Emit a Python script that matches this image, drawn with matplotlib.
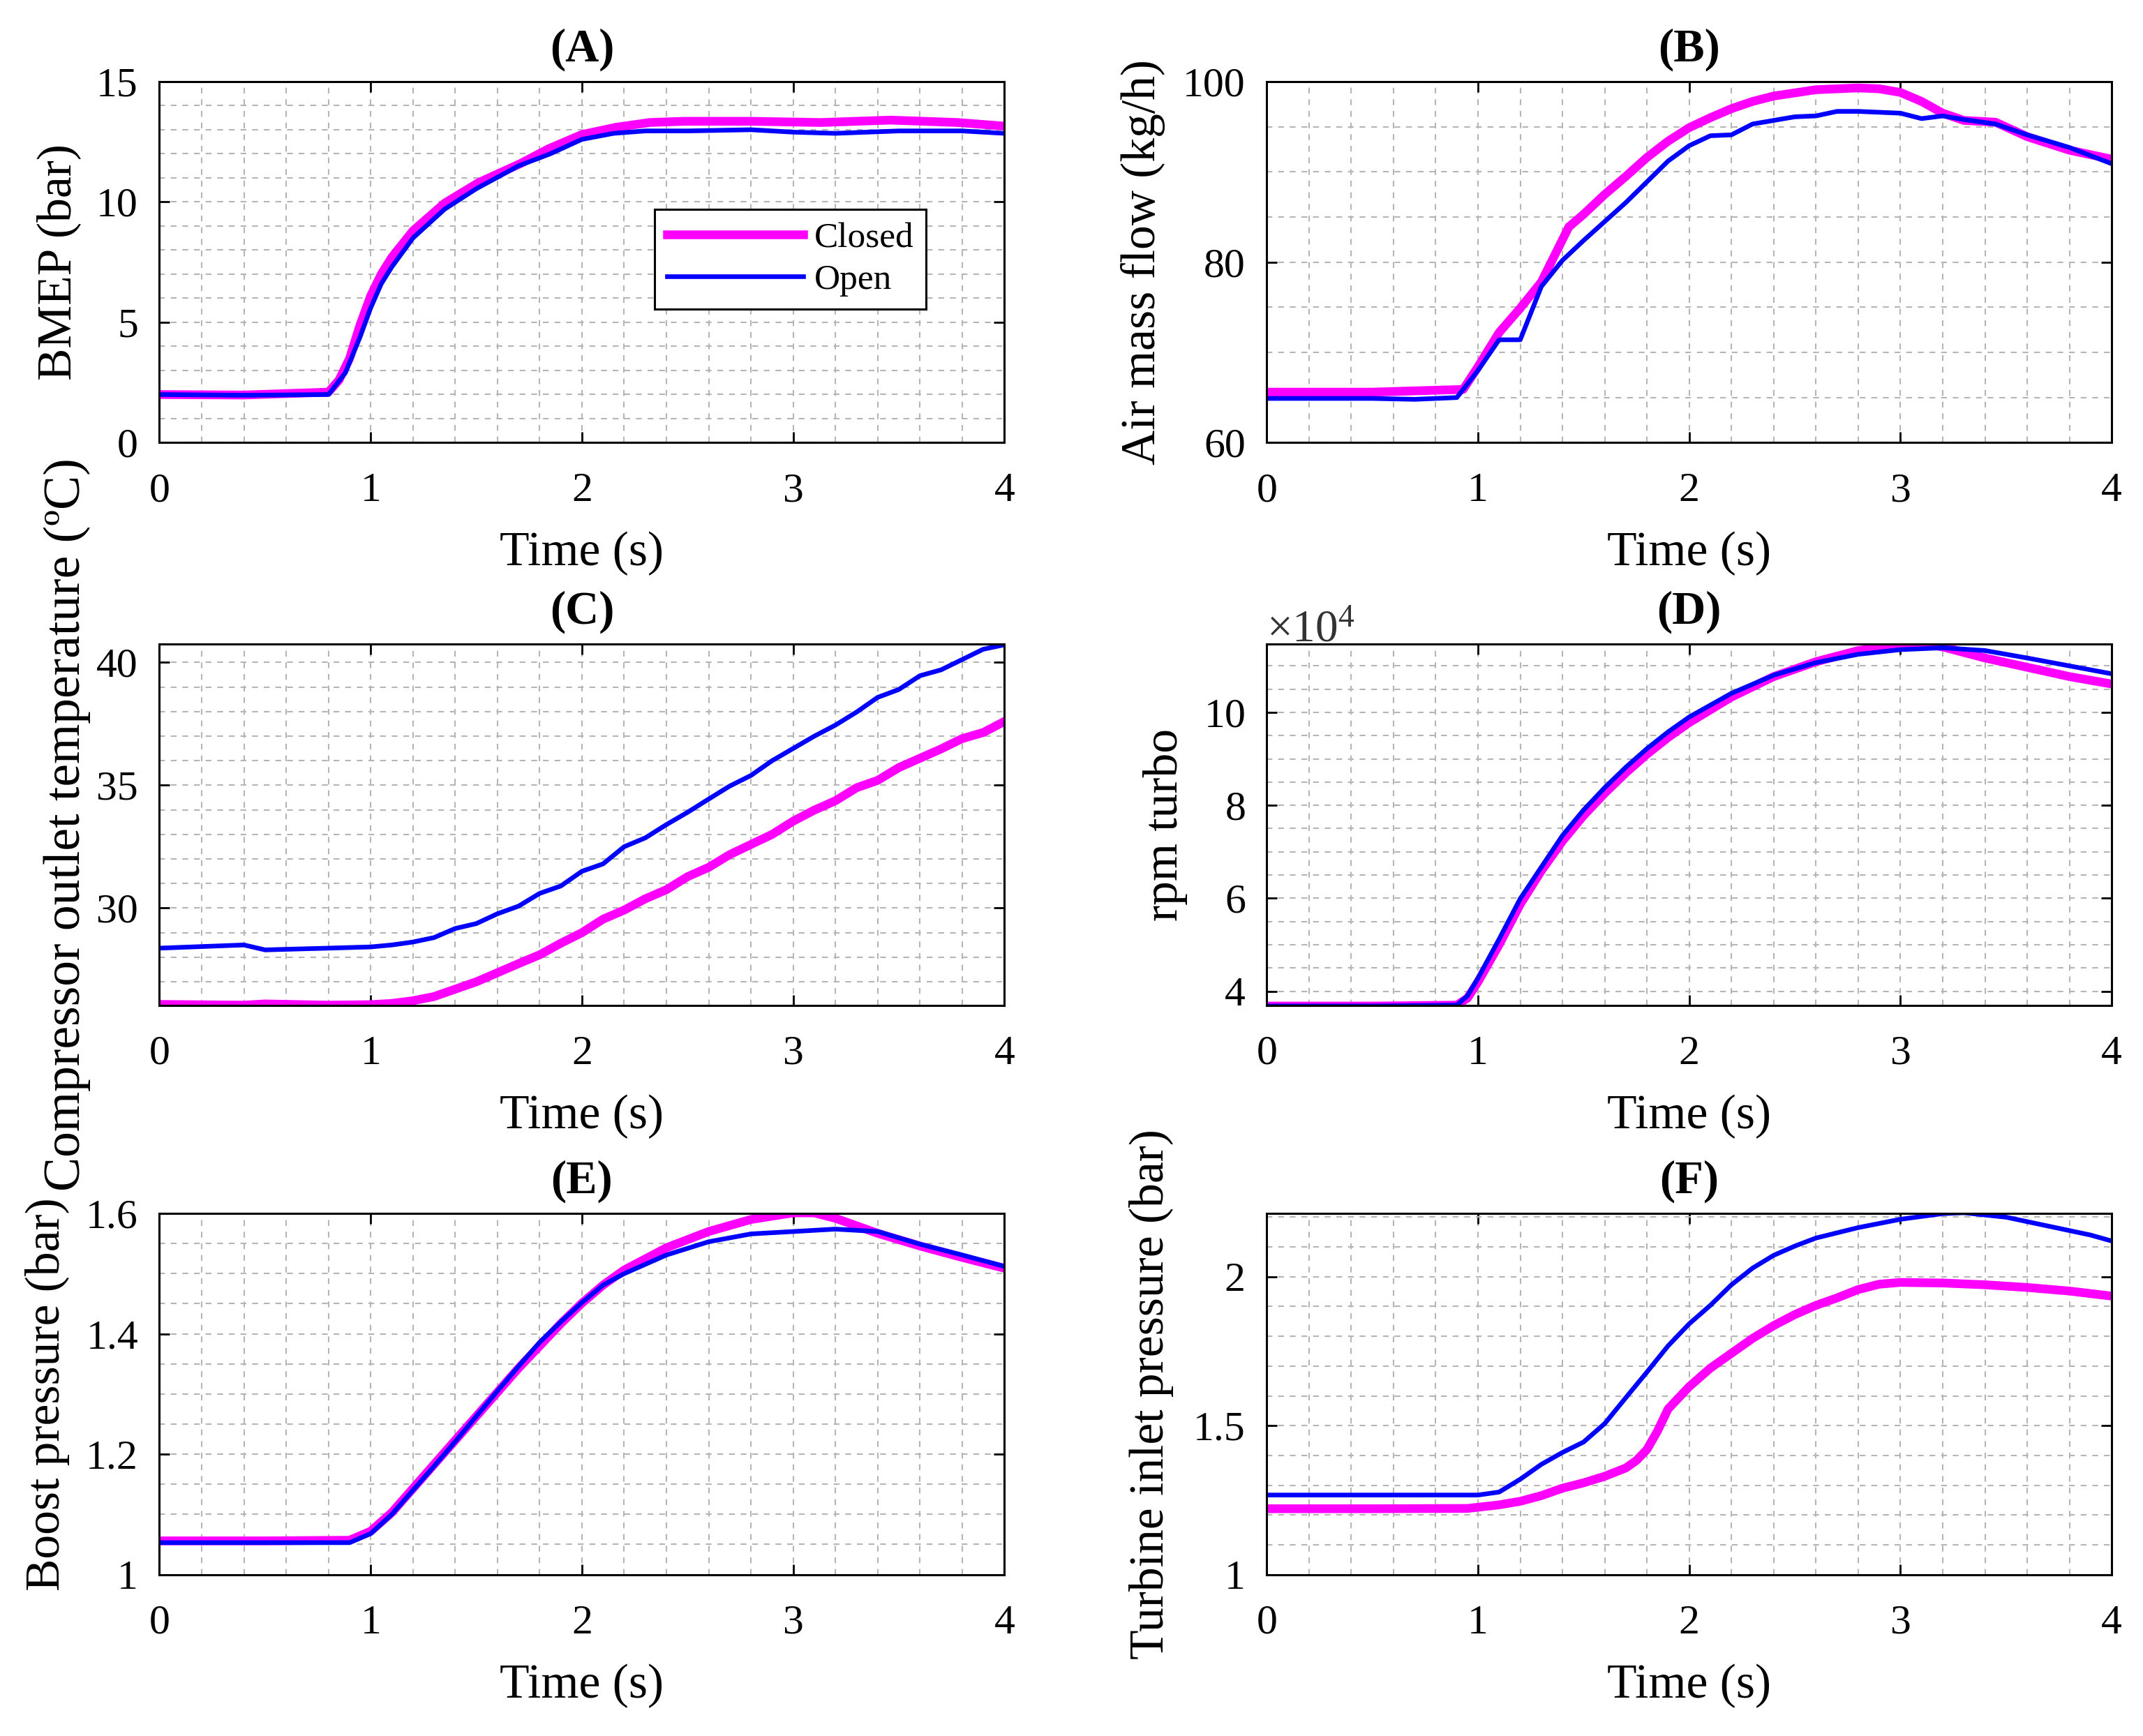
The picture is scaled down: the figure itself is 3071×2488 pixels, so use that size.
import matplotlib
matplotlib.use("Agg")
import matplotlib.pyplot as plt
from matplotlib.ticker import MultipleLocator, FormatStrFormatter
import numpy as np

plt.rcParams['font.family'] = ['Liberation Serif', 'DejaVu Serif']
plt.rcParams['mathtext.fontset'] = 'custom'
plt.rcParams['mathtext.rm'] = 'Liberation Serif'
plt.rcParams['mathtext.it'] = 'Liberation Serif:italic'

# (A) BMEP
bmep_closed_t = [0, 0.4, 0.8, 0.85, 0.9, 0.95, 1.0, 1.05, 1.1, 1.2, 1.35, 1.51, 1.71, 1.84, 2.0, 2.16, 2.32, 2.48, 2.81, 3.13, 3.46, 3.78, 4.0]
bmep_closed = [2.0, 1.98, 2.1, 2.6, 3.5, 4.9, 6.1, 7.0, 7.7, 8.8, 9.95, 10.8, 11.6, 12.2, 12.8, 13.1, 13.3, 13.35, 13.35, 13.3, 13.4, 13.3, 13.15]
bmep_open_t = [0, 0.4, 0.8, 0.88, 0.95, 1.0, 1.05, 1.1, 1.2, 1.35, 1.5, 1.7, 1.85, 2.0, 2.15, 2.3, 2.5, 2.8, 3.0, 3.2, 3.5, 3.8, 4.0]
bmep_open = [2.0, 1.97, 2.0, 2.9, 4.4, 5.6, 6.6, 7.3, 8.5, 9.7, 10.55, 11.5, 12.0, 12.6, 12.85, 12.95, 12.95, 13.0, 12.9, 12.85, 12.95, 12.95, 12.85]

# (B) air mass flow
air_closed_t = [0, 0.5, 0.93, 1.0, 1.1, 1.2, 1.3, 1.43, 1.5, 1.6, 1.7, 1.8, 1.9, 2.0, 2.1, 2.2, 2.3, 2.4, 2.6, 2.8, 2.9, 3.0, 3.1, 3.2, 3.3, 3.45, 3.6, 3.8, 4.0]
air_closed = [65.6, 65.6, 65.9, 68.4, 72.2, 74.9, 77.8, 83.9, 85.3, 87.5, 89.5, 91.6, 93.4, 94.9, 96.0, 97.0, 97.8, 98.4, 99.1, 99.3, 99.2, 98.8, 97.8, 96.5, 95.7, 95.5, 93.9, 92.4, 91.4]
air_open_t = [0, 0.5, 0.7, 0.9, 1.0, 1.1, 1.2, 1.3, 1.4, 1.5, 1.7, 1.9, 2.0, 2.1, 2.2, 2.3, 2.5, 2.6, 2.7, 2.8, 3.0, 3.1, 3.2, 3.3, 3.45, 3.6, 3.8, 4.0]
air_open = [64.9, 64.9, 64.8, 65.0, 68.0, 71.4, 71.4, 77.3, 80.2, 82.4, 86.6, 91.2, 92.9, 94.0, 94.1, 95.3, 96.1, 96.2, 96.7, 96.7, 96.5, 95.9, 96.2, 95.8, 95.3, 94.1, 92.7, 90.9]

# (C) compressor outlet temperature
temp_t = [0, 0.4, 0.5, 0.8, 1.0, 1.1, 1.2, 1.3, 1.4, 1.5, 1.6, 1.7, 1.8, 1.9, 2.0, 2.1, 2.2, 2.3, 2.4, 2.5, 2.6, 2.7, 2.8, 2.9, 3.0, 3.1, 3.2, 3.3, 3.4, 3.5, 3.6, 3.7, 3.8, 3.9, 4.0]
temp_open = [28.37, 28.5, 28.3, 28.37, 28.42, 28.5, 28.62, 28.8, 29.17, 29.37, 29.77, 30.08, 30.6, 30.9, 31.5, 31.8, 32.5, 32.86, 33.4, 33.9, 34.44, 34.97, 35.4, 36.0, 36.5, 37.0, 37.45, 37.98, 38.58, 38.9, 39.46, 39.7, 40.12, 40.54, 40.72]
temp_closed = [26.08, 26.05, 26.1, 26.05, 26.07, 26.12, 26.23, 26.4, 26.7, 27.0, 27.37, 27.74, 28.1, 28.57, 29.0, 29.55, 29.92, 30.38, 30.75, 31.28, 31.66, 32.18, 32.59, 33.0, 33.54, 33.99, 34.37, 34.9, 35.2, 35.72, 36.1, 36.48, 36.9, 37.15, 37.6]

# (D) turbo speed
rpm_t = [0, 0.5, 0.9, 0.95, 1.0, 1.1, 1.2, 1.3, 1.4, 1.5, 1.6, 1.7, 1.8, 1.9, 2.0, 2.2, 2.4, 2.6, 2.8, 3.0, 3.1, 3.2, 3.4, 3.6, 3.8, 4.0]
rpm_closed = [36800, 36800, 37000, 38500, 42000, 50000, 58700, 65900, 72300, 77800, 82600, 87000, 91000, 94600, 97800, 103300, 107700, 110900, 113300, 114500, 114700, 114100, 111700, 109700, 107700, 106100]
rpm_open = [36800, 36800, 37000, 39000, 42800, 51200, 59900, 66700, 73500, 79000, 83800, 88200, 92200, 95800, 99000, 104100, 108000, 110700, 112500, 113500, 113700, 113900, 113300, 111700, 110000, 108300]

# (E) boost pressure
boost_t = [0, 0.5, 0.9, 1.0, 1.1, 1.2, 1.3, 1.4, 1.5, 1.6, 1.7, 1.8, 1.9, 2.0, 2.1, 2.2, 2.4, 2.6, 2.8, 3.0, 3.1, 3.2, 3.4, 3.6, 3.8, 4.0]
boost_closed = [1.056, 1.056, 1.057, 1.072, 1.103, 1.143, 1.183, 1.223, 1.263, 1.303, 1.343, 1.38, 1.417, 1.451, 1.481, 1.506, 1.543, 1.57, 1.59, 1.601, 1.601, 1.592, 1.567, 1.546, 1.527, 1.509]
boost_open = [1.053, 1.053, 1.053, 1.068, 1.1, 1.14, 1.18, 1.221, 1.263, 1.305, 1.346, 1.386, 1.42, 1.452, 1.481, 1.5, 1.531, 1.553, 1.566, 1.57, 1.572, 1.574, 1.57, 1.549, 1.531, 1.512]

# (F) turbine inlet pressure
tip_open_t = [0, 0.5, 1.0, 1.1, 1.2, 1.3, 1.4, 1.5, 1.6, 1.7, 1.8, 1.9, 2.0, 2.1, 2.2, 2.3, 2.4, 2.5, 2.6, 2.8, 3.0, 3.2, 3.3, 3.5, 3.7, 3.9, 4.0]
tip_open = [1.267, 1.267, 1.267, 1.277, 1.32, 1.37, 1.41, 1.445, 1.507, 1.594, 1.68, 1.768, 1.842, 1.904, 1.973, 2.029, 2.072, 2.103, 2.13, 2.165, 2.193, 2.212, 2.215, 2.2, 2.17, 2.14, 2.12]
tip_closed_t = [0, 0.5, 0.95, 1.1, 1.2, 1.3, 1.4, 1.5, 1.6, 1.7, 1.75, 1.8, 1.85, 1.9, 2.0, 2.1, 2.2, 2.3, 2.4, 2.5, 2.6, 2.7, 2.8, 2.9, 3.0, 3.2, 3.4, 3.6, 3.8, 4.0]
tip_closed = [1.221, 1.221, 1.222, 1.234, 1.246, 1.265, 1.29, 1.308, 1.33, 1.358, 1.383, 1.42, 1.482, 1.556, 1.631, 1.693, 1.743, 1.793, 1.836, 1.873, 1.904, 1.929, 1.957, 1.975, 1.981, 1.979, 1.973, 1.964, 1.952, 1.935]

panels = [
    ("(A)", "BMEP (bar)", bmep_closed_t, bmep_closed, bmep_open_t, bmep_open, (0, 15), 5, 1),
    ("(B)", "Air mass flow (kg/h)", air_closed_t, air_closed, air_open_t, air_open, (60, 100), 20, 5),
    ("(C)", "Compressor outlet temperature (ºC)", temp_t, temp_closed, temp_t, temp_open, (26.05, 40.75), 5, 1),
    ("(D)", "rpm turbo", rpm_t, rpm_closed, rpm_t, rpm_open, (37000, 114700), 20000, 5000),
    ("(E)", "Boost pressure (bar)", boost_t, boost_closed, boost_t, boost_open, (1, 1.6), 0.2, 0.05),
    ("(F)", "Turbine inlet pressure (bar)", tip_closed_t, tip_closed, tip_open_t, tip_open, (1, 2.2125), 0.5, 0.1),
]

lefts = [0.0744, 0.5911]
bottoms = [0.745, 0.421, 0.093]
w, h = 0.3943, 0.208
labelpads = [16, 18, 6, 17, 17, 20]

fig = plt.figure(figsize=(30.71, 24.88), dpi=100)

for i, (title, ylab, tc, yc, to, yo, ylim, major, minor) in enumerate(panels):
    ax = fig.add_axes([lefts[i % 2], bottoms[i // 2], w, h])
    ax.plot(tc, yc, color='#FF00FF', lw=9, label='Closed', solid_joinstyle='round')
    ax.plot(to, yo, color='#0000FF', lw=4.8, label='Open', solid_joinstyle='round')
    ax.set_xlim(0, 4)
    ax.set_ylim(*ylim)
    ax.xaxis.set_major_locator(MultipleLocator(1))
    ax.xaxis.set_minor_locator(MultipleLocator(0.2))
    ax.yaxis.set_major_locator(MultipleLocator(major))
    ax.yaxis.set_minor_locator(MultipleLocator(minor))
    ax.xaxis.set_major_formatter(FormatStrFormatter('%g'))
    if i != 3:
        ax.yaxis.set_major_formatter(FormatStrFormatter('%g'))
    ax.grid(which='both', color='#b5b5b5', linestyle=(0, (4, 4)), linewidth=1.5)
    ax.set_axisbelow(True)
    ax.tick_params(which='major', direction='in', top=True, right=True,
                   length=11, width=2, labelsize=43)
    ax.tick_params(axis='x', which='major', pad=31)
    ax.tick_params(axis='y', which='major', pad=22)
    ax.tick_params(which='minor', length=0)
    for sp in ax.spines.values():
        sp.set_linewidth(2.2)
    ax.set_title(title, fontsize=48, fontweight='bold', pad=21)
    ax.set_xlabel("Time (s)", fontsize=50, labelpad=22)
    ax.set_ylabel(ylab, fontsize=53 if i == 2 else 50, labelpad=labelpads[i])
    if i == 3:
        ax.ticklabel_format(axis='y', style='sci', scilimits=(4, 4), useMathText=True)
        ax.yaxis.get_offset_text().set_fontsize(47)
        ax.yaxis.get_offset_text().set_color('#333333')
    if i == 0:
        leg = ax.legend(loc='upper left', bbox_to_anchor=(0.586, 0.646), borderaxespad=0,
                        fontsize=37, fancybox=False, framealpha=1, edgecolor='black',
                        handlelength=3.8, handletextpad=0.3, borderpad=0.35,
                        labelspacing=0.25)
        leg.get_frame().set_linewidth(2.2)

fig.savefig("out.png", dpi=100)
